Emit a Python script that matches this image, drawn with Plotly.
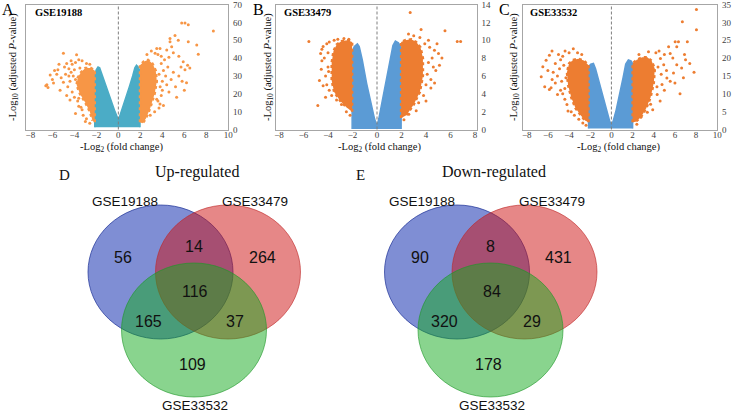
import plotly.graph_objects as go

W, H = 738, 413
SERIF = "Liberation Serif, Times New Roman, serif"
SANS = "Liberation Sans, Arial, sans-serif"

# ---------------- Volcano data ----------------
panel_names = ["GSE19188", "GSE33479", "GSE33532"]
panel_letters = ["A", "B", "C"]

# Panel A
A_blue_x = [-2.15, -2.15, -2.0, -1.85, -1.7, -1.4, -1.0, -0.6, -0.3, -0.1, 0.0, 0.1, 0.3, 0.6, 1.0, 1.3, 1.5, 1.65, 1.8, 1.95, 1.97]
A_blue_y = [1.2, 31, 33.5, 35, 34.5, 29, 22, 15, 10, 7, 5.5, 7, 10.5, 16, 24, 30, 34.5, 36, 35, 33, 1.2]
A_coreL_x = [-2.15, -2.15, -2.5, -3.0, -3.4, -3.7, -3.8, -3.5, -3.0, -2.6, -2.35]
A_coreL_y = [4, 33, 34.5, 34.5, 32, 29, 25, 20, 15, 10, 5]
A_coreR_x = [1.97, 1.97, 2.3, 2.7, 3.1, 3.4, 3.5, 3.3, 2.9, 2.5, 2.2]
A_coreR_y = [4, 36, 38, 39, 37, 33, 27, 20, 12, 6, 3.5]
A_ptsL_x = [-5.0, -3.8, -3.6, -4.3, -4.7, -5.4, -5.8, -5.6, -6.2, -6.0, -6.5, -6.4, -6.6, -5.9, -5.2, -5.0, -4.8, -4.5, -4.9, -4.2, -3.9, -3.3, -2.9, -2.6, -4.4, -4.6, -4.2, -4.0, -3.7, -4.4, -3.4, -3.9, -3.2, -3.6, -2.9, -2.6, -3.0, -4.7, -5.3, -4.1, -3.5, -5.5, -4.3, -4.0, -3.9, -4.5, -3.6, -3.3]
A_ptsL_y = [42.7, 41.8, 39, 38.5, 37, 36.5, 33, 31, 30.5, 28, 25, 23.5, 24.5, 26, 29, 26.5, 31, 34, 35, 36.5, 37.5, 38.5, 37, 36.5, 27, 24, 21, 18, 16, 16.5, 12.5, 9, 8, 13, 6, 3.5, 4.5, 19, 22, 30, 34.5, 33.5, 32, 33.5, 28, 30, 17.5, 11]
A_ptsR_x = [5.76, 6.06, 6.36, 8.64, 4.7, 5.15, 5.45, 6.36, 7.13, 7.27, 4.7, 4.85, 4.4, 3.79, 3.49, 3.34, 3.0, 3.9, 4.2, 4.6, 5.0, 5.5, 5.9, 6.3, 6.06, 6.5, 6.2, 5.8, 5.5, 5.0, 4.5, 4.1, 4.8, 4.4, 4.0, 4.6, 5.3, 4.1, 3.79, 3.49, 3.9, 3.3, 2.9, 4.3, 3.9, 3.6, 2.6, 5.2, 6.0, 5.7, 3.7, 3.8, 4.0, 3.6, 3.7]
A_ptsR_y = [59.7, 59.7, 58.6, 55.2, 50.9, 52.7, 50, 49.1, 47.3, 42.1, 49.1, 46.4, 44.5, 45.4, 45.4, 42.7, 44, 41, 39, 40.5, 43, 41, 38, 36, 33.5, 34.4, 26.2, 27, 30, 32, 35, 33, 28, 25, 22, 21, 18, 13.4, 14.3, 17, 19, 10, 8, 30, 37, 42, 42, 24, 22, 35, 31, 24, 27, 16, 12]

# Panel B
B_blue_x = [-2.03, -2.03, -1.85, -1.6, -1.45, -1.2, -0.85, -0.5, -0.2, 0.0, 0.15, 0.4, 0.75, 1.05, 1.3, 1.5, 1.75, 1.97, 1.97]
B_blue_y = [0.05, 8.7, 9.3, 9.6, 9.3, 7.8, 5.2, 3.0, 1.2, 0.4, 1.2, 3.0, 5.4, 7.5, 9.4, 9.9, 9.7, 9.2, 0.05]
B_coreL_x = [-2.03, -2.03, -2.4, -2.9, -3.3, -3.55, -3.7, -3.7, -3.5, -3.0, -2.5]
B_coreL_y = [2.0, 9.8, 10.0, 9.9, 9.5, 8.8, 7.5, 5.5, 4.2, 3.2, 2.5]
B_coreR_x = [1.97, 1.97, 2.3, 2.8, 3.2, 3.55, 3.75, 3.75, 3.5, 3.0, 2.4]
B_coreR_y = [1.3, 9.8, 10.0, 10.1, 9.8, 9.2, 8.0, 6.0, 4.2, 2.8, 1.6]
B_ptsL_x = [-5.56, -4.83, -4.55, -4.2, -4.6, -4.5, -4.4, -4.1, -3.9, -3.5, -3.2, -2.7, -2.3, -4.3, -4.0, -4.2, -4.1, -3.9, -4.4, -3.7, -3.3, -2.9, -2.5, -2.2, -4.7, -4.0, -3.95, -4.5]
B_ptsL_y = [9.86, 2.7, 6.74, 3.6, 8.5, 7.7, 9.3, 9.6, 9.8, 10.0, 10.1, 10.2, 10.1, 8.0, 7.0, 6.0, 5.0, 4.4, 4.9, 3.8, 3.3, 2.8, 2.0, 1.6, 5.5, 8.6, 6.5, 9.0]
B_ptsR_x = [2.71, 2.57, 5.55, 6.55, 6.83, 4.69, 5.02, 4.2, 5.1, 4.8, 4.4, 4.0, 3.2, 2.6, 3.5, 3.0, 3.9, 4.3, 4.5, 4.2, 4.6, 4.1, 4.4, 4.0, 4.7, 3.8, 3.4, 5.3, 4.9, 3.6, 2.2]
B_ptsR_y = [13.1, 10.7, 11.07, 9.86, 9.86, 8.87, 8.5, 10.0, 7.2, 6.6, 4.65, 3.2, 2.1, 1.7, 10.3, 10.5, 9.6, 9.2, 8.0, 7.5, 7.0, 6.2, 5.6, 5.0, 5.2, 3.8, 3.0, 8.0, 9.6, 11.2, 1.1]

# Panel C
C_blue_x = [-2.16, -2.16, -1.95, -1.7, -1.5, -1.15, -0.8, -0.45, -0.15, 0.0, 0.15, 0.45, 0.8, 1.1, 1.35, 1.6, 1.85, 2.0, 2.0]
C_blue_y = [0.3, 17.6, 18.3, 18.5, 17, 13, 9, 5.2, 2.2, 1.2, 2.2, 5.5, 10, 14.5, 18.3, 19.5, 19.2, 18.5, 0.3]
C_coreL_x = [-2.16, -2.16, -2.6, -3.1, -3.6, -4.0, -4.2, -4.1, -3.8, -3.4, -2.9, -2.5]
C_coreL_y = [2.0, 18, 19.3, 19.8, 19.5, 18.5, 16, 12.5, 9, 6, 4, 2.5]
C_coreR_x = [2.0, 2.0, 2.4, 2.9, 3.4, 3.8, 4.1, 4.0, 3.7, 3.3, 2.8, 2.3]
C_coreR_y = [2.0, 18.5, 19.5, 20.2, 20.2, 19.2, 17, 13, 9, 6, 3.5, 2.2]
C_ptsL_x = [-3.6, -4.38, -5.61, -5.86, -6.17, -6.63, -6.48, -5.86, -5.7, -5.09, -3.08, -4.1, -5.0, -4.8, -5.3, -5.5, -5.1, -4.9, -4.7, -5.3, -4.8, -4.4, -4.6, -4.2, -3.8, -3.5, -2.7, -2.4, -3.2, -2.8, -4.0, -4.6, -6.0, -5.6, -6.3, -4.3, -4.5, -4.4]
C_ptsL_y = [22.6, 22, 22, 20.8, 19.4, 14.8, 17.6, 11.2, 11.7, 9.8, 2.9, 5.2, 21, 19.5, 18.5, 16, 15, 17, 13.5, 13, 11, 8.5, 10, 7, 5, 4, 1.8, 1.2, 21.5, 21, 21.5, 20.5, 16.5, 14, 12, 14.5, 18, 11.5]
C_ptsR_x = [8.03, 6.7, 8.03, 6.02, 6.33, 7.17, 6.48, 7.4, 6.17, 5.4, 5.55, 4.63, 4.94, 6.17, 6.63, 5.86, 5.24, 4.78, 5.55, 4.32, 3.7, 3.39, 2.78, 4.5, 5.0, 4.2, 3.5, 2.6, 5.8, 6.9, 7.0, 5.2, 4.7, 6.0, 5.0, 4.6, 3.9, 2.4, 7.8, 6.8, 4.4, 4.3]
C_ptsR_y = [33.6, 30.2, 27.9, 24.6, 24.6, 24.6, 10, 18.5, 23.2, 23.2, 21.3, 19.9, 18.1, 18.1, 17.2, 15.8, 14.4, 12.6, 13.5, 9.8, 7.1, 4.8, 3.4, 22, 21, 21.5, 21.8, 21, 20, 21, 19.5, 16.5, 15.5, 13, 11, 8, 5.5, 1.5, 16, 14.5, 17.5, 12]

# Axis ticks
A_ticks_x = [-8, -6, -4, -2, 0, 2, 4, 6, 8, 10]
A_ticks_y = [0, 10, 20, 30, 40, 50, 60, 70]
B_ticks_x = [-8, -6, -4, -2, 0, 2, 4, 6, 8]
B_ticks_y = [0, 2, 4, 6, 8, 10, 12, 14]
C_ticks_x = [-8, -6, -4, -2, 0, 2, 4, 6, 8, 10]
C_ticks_y = [0, 5, 10, 15, 20, 25, 30, 35]

# ---------------- Venn data ----------------
venn_sets = ["GSE19188", "GSE33479", "GSE33532"]
# region order: only1, 1&2, only2, all, 1&3, 2&3, only3
up_counts = [56, 14, 264, 116, 165, 37, 109]
down_counts = [90, 8, 431, 84, 320, 29, 178]

# ---------------- helpers ----------------
def px(x):
    return x / W

def py(y):
    return 1 - y / H

fig = go.Figure()

panels = [
    dict(blue_x=A_blue_x, blue_y=A_blue_y, cl=(A_coreL_x, A_coreL_y), cr=(A_coreR_x, A_coreR_y),
         pl=(A_ptsL_x, A_ptsL_y), pr=(A_ptsR_x, A_ptsR_y), blue="#4bacc6", orange="#f79646",
         box=(26, 228.3), xr=[-8.4, 10], yr=[0, 70], tx=A_ticks_x, ty=A_ticks_y),
    dict(blue_x=B_blue_x, blue_y=B_blue_y, cl=(B_coreL_x, B_coreL_y), cr=(B_coreR_x, B_coreR_y),
         pl=(B_ptsL_x, B_ptsL_y), pr=(B_ptsR_x, B_ptsR_y), blue="#5b9bd5", orange="#ed7d31",
         box=(275.7, 476.7), xr=[-8.27, 8.14], yr=[0, 14], tx=B_ticks_x, ty=B_ticks_y),
    dict(blue_x=C_blue_x, blue_y=C_blue_y, cl=(C_coreL_x, C_coreL_y), cr=(C_coreR_x, C_coreR_y),
         pl=(C_ptsL_x, C_ptsL_y), pr=(C_ptsR_x, C_ptsR_y), blue="#5b9bd5", orange="#ed7d31",
         box=(522.7, 717.3), xr=[-8.38, 10], yr=[0, 35], tx=C_ticks_x, ty=C_ticks_y),
]

box_top, box_bot = 4.5, 129.5
ytitle_x = [13, 268, 514]
xtitle_x = [121, 379, 618]
letter_x = [8, 258, 504]
name_x = [33, 282, 528]

layout_axes = {}
shapes = []
annotations = []

for i, p in enumerate(panels):
    n = "" if i == 0 else str(i + 1)
    xa, ya = "x" + n, "y" + n
    common = dict(showline=True, mirror=True, linecolor="#a6a6a6", linewidth=1,
                  showgrid=False, zeroline=False, ticks="", automargin=False,
                  tickfont=dict(family=SERIF, size=9, color="#404040"), fixedrange=True)
    layout_axes["xaxis" + n] = dict(domain=[px(p["box"][0]), px(p["box"][1])], range=p["xr"],
                                    anchor=ya, tickvals=p["tx"], ticklabelstandoff=-3, **common)
    layout_axes["yaxis" + n] = dict(domain=[py(box_bot), py(box_top)], range=p["yr"],
                                    anchor=xa, side="right", tickvals=p["ty"],
                                    ticklabelstandoff=2, ticklabeloverflow="allow", **common)
    fig.add_trace(go.Scatter(x=p["blue_x"], y=p["blue_y"], fill="toself", mode="lines",
                             line=dict(color=p["blue"], width=1.5), fillcolor=p["blue"],
                             xaxis=xa, yaxis=ya, hoverinfo="skip", showlegend=False))
    for cx, cy in (p["cl"], p["cr"]):
        fig.add_trace(go.Scatter(x=cx, y=cy, fill="toself", mode="lines",
                                 line=dict(color=p["orange"], width=2.5, dash="dot"),
                                 fillcolor=p["orange"], xaxis=xa, yaxis=ya,
                                 hoverinfo="skip", showlegend=False))
    fig.add_trace(go.Scatter(x=p["pl"][0] + p["pr"][0], y=p["pl"][1] + p["pr"][1], mode="markers",
                             marker=dict(color=p["orange"], size=3), xaxis=xa, yaxis=ya,
                             hoverinfo="skip", showlegend=False))
    shapes.append(dict(type="line", xref=xa, yref=ya + " domain", x0=0, x1=0, y0=0, y1=1,
                       line=dict(color="#7f7f7f", width=1, dash="3px,2px")))
    annotations.append(dict(x=px(ytitle_x[i]), y=py(67), xref="paper", yref="paper",
                            text="-Log<sub>10</sub> (adjusted <i>P</i>-value)", textangle=-90,
                            showarrow=False, font=dict(family=SERIF, size=10.5, color="#111"),
                            xanchor="center", yanchor="middle"))
    annotations.append(dict(x=px(xtitle_x[i]), y=py(148), xref="paper", yref="paper",
                            text="-Log<sub>2</sub> (fold change)", showarrow=False,
                            font=dict(family=SERIF, size=10.5, color="#111"),
                            xanchor="center", yanchor="middle"))
    annotations.append(dict(x=px(letter_x[i]), y=py(9), xref="paper", yref="paper",
                            text=panel_letters[i], showarrow=False,
                            font=dict(family=SERIF, size=16, color="#000"),
                            xanchor="center", yanchor="middle"))
    annotations.append(dict(x=px(name_x[i]), y=py(13), xref="paper", yref="paper",
                            text="<b>" + panel_names[i] + "</b>", showarrow=False,
                            font=dict(family=SERIF, size=10.5, color="#000"),
                            xanchor="left", yanchor="middle"))

# ---------------- Venn diagrams ----------------
venn_fill = ["rgba(0,30,170,0.5)", "rgba(205,15,15,0.5)", "rgba(20,170,30,0.5)"]
venn_line = ["rgba(30,50,150,0.7)", "rgba(190,40,40,0.6)", "rgba(30,150,40,0.6)"]
circle_c = [(160.5, 272), (228, 272), (194, 330)]
RX, RY = 72.5, 67
region_pos = [(123, 257), (194, 246), (262, 257), (195, 291), (148, 321), (235, 321), (192, 364)]
set_label_pos = [(125, 201), (255, 201), (195, 405)]

for off, counts, title, letter in [(0, up_counts, "Up-regulated", "D"),
                                   (296.5, down_counts, "Down-regulated", "E")]:
    for k, (cx, cy) in enumerate(circle_c):
        shapes.append(dict(type="circle", xref="paper", yref="paper",
                           x0=px(cx + off - RX), x1=px(cx + off + RX),
                           y0=py(cy + RY), y1=py(cy - RY),
                           fillcolor=venn_fill[k], line=dict(color=venn_line[k], width=1)))
    for c, (x, y) in zip(counts, region_pos):
        annotations.append(dict(x=px(x + off), y=py(y), xref="paper", yref="paper", text=str(c),
                                showarrow=False, font=dict(family=SANS, size=16, color="#111"),
                                xanchor="center", yanchor="middle"))
    for s, (x, y) in zip(venn_sets, set_label_pos):
        annotations.append(dict(x=px(x + off), y=py(y), xref="paper", yref="paper", text=s,
                                showarrow=False, font=dict(family=SANS, size=13.5, color="#111"),
                                xanchor="center", yanchor="middle"))
    annotations.append(dict(x=px(197 + off), y=py(172), xref="paper", yref="paper", text=title,
                            showarrow=False, font=dict(family=SERIF, size=16, color="#111"),
                            xanchor="center", yanchor="middle"))
    annotations.append(dict(x=px(64 + off), y=py(175), xref="paper", yref="paper", text=letter,
                            showarrow=False, font=dict(family=SERIF, size=15, color="#111"),
                            xanchor="center", yanchor="middle"))

fig.update_layout(width=W, height=H, autosize=False, margin=dict(l=0, r=0, t=0, b=0),
                  paper_bgcolor="white", plot_bgcolor="white", showlegend=False,
                  shapes=shapes, annotations=annotations, **layout_axes)

fig.write_html("out.html", config={"displayModeBar": False},
               post_script="document.body.style.margin='0';document.body.style.padding='0';"
                           "document.documentElement.style.overflow='hidden';")
